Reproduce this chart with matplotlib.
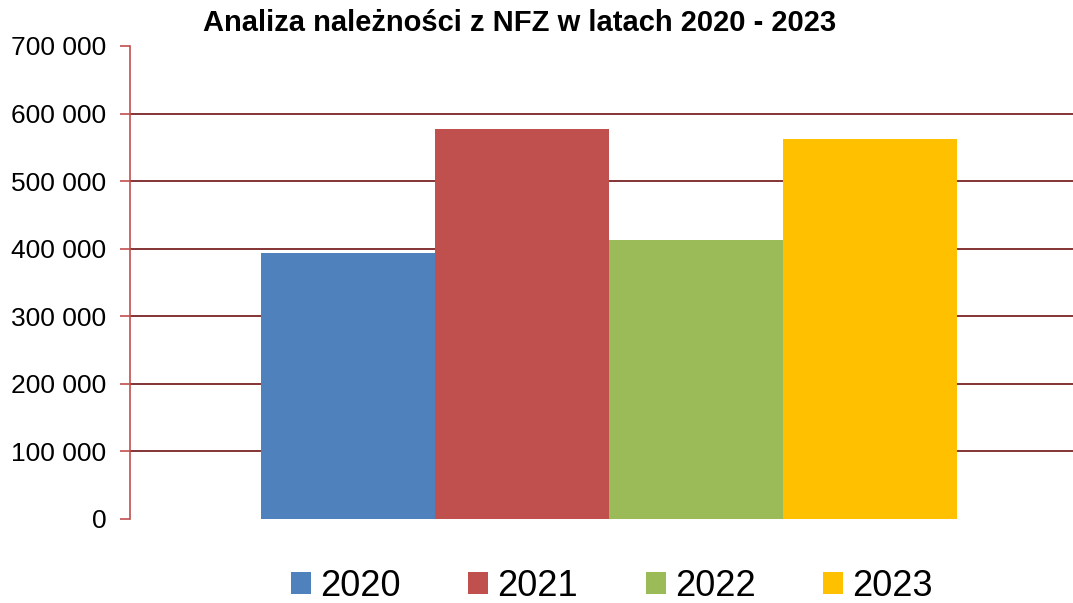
import matplotlib
matplotlib.use("Agg")
import matplotlib.pyplot as plt
from matplotlib.patches import Patch
from matplotlib.ticker import FuncFormatter

years = ["2020", "2021", "2022", "2023"]
values = [394000, 577000, 413000, 562000]
colors = ["#4F81BD", "#C0504D", "#9BBB59", "#FFC000"]
title = "Analiza należności z NFZ w latach 2020 - 2023"
yticks = list(range(0, 700001, 100000))

plt.rcParams['font.family'] = ['Liberation Sans', 'DejaVu Sans']

fig = plt.figure(figsize=(10.73, 6.03), dpi=100)
ax = fig.add_axes([130/1073, 1-519/603, 1-130/1073, (519-46)/603])

xs = list(range(len(years)))
ax.bar(xs, values, width=1.0, color=colors, zorder=3)

ax.set_xlim(-1.253, 4.167)
ax.set_ylim(0, 700000)
ax.set_yticks(yticks)
ax.yaxis.set_major_formatter(FuncFormatter(lambda v, p: f"{int(v):,}".replace(",", " ")))
ax.tick_params(axis='y', labelsize=19, length=7, color="#C0504D", pad=10, width=1.2)
ax.set_xticks([])
for t in yticks[1:-1]:
    ax.axhline(t, color="#701010", linewidth=1.2, zorder=0)
for s in ["top", "right", "bottom"]:
    ax.spines[s].set_visible(False)
ax.spines["left"].set_color("#C0504D")
ax.spines["left"].set_linewidth(1.2)

fig.text(520/1073, 1-23/603, title, ha='center', va='center', fontsize=21, fontweight='bold')

handles = [Patch(facecolor=c, edgecolor='none') for c in colors]
fig.legend(handles, years, loc='center', bbox_to_anchor=(612/1073, 1-586/603), ncol=4,
           frameon=False, fontsize=26, handlelength=0.55, handleheight=0.55,
           handletextpad=0.25, columnspacing=1.88, borderpad=0.1)

fig.savefig("out.png", dpi=100)
